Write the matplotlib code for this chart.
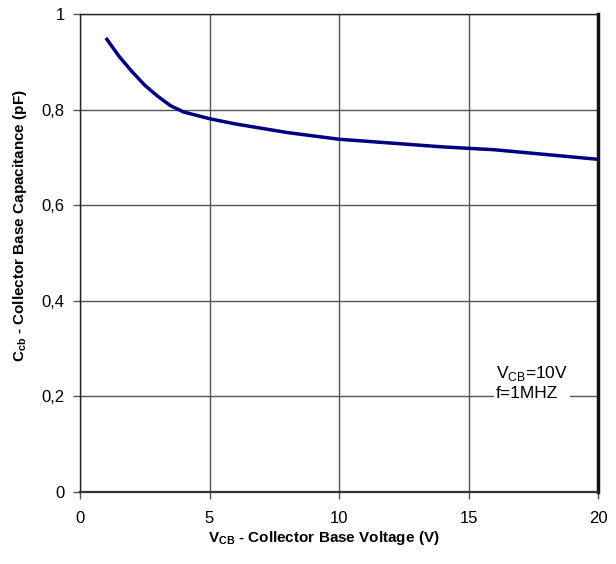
import numpy as np
import matplotlib
matplotlib.use('Agg')
import matplotlib.pyplot as plt

plt.rcParams['font.family'] = ['Liberation Sans', 'DejaVu Sans']
plt.rcParams['mathtext.fontset'] = 'custom'
plt.rcParams['mathtext.rm'] = 'Liberation Sans'
plt.rcParams['mathtext.bf'] = 'Liberation Sans:bold'

# Collector base voltage (V) vs. capacitance (pF)
vcb = [1, 1.5, 2, 2.5, 3, 3.5, 4, 5, 6, 8, 10, 12, 14, 16, 18, 20]
ccb = [0.950, 0.912, 0.880, 0.851, 0.828, 0.808, 0.795, 0.781, 0.770, 0.752,
       0.738, 0.730, 0.722, 0.716, 0.706, 0.696]

x_ticks = [0, 5, 10, 15, 20]
y_ticks = [0, 0.2, 0.4, 0.6, 0.8, 1]
y_tick_labels = ['0', '0,2', '0,4', '0,6', '0,8', '1']

fig = plt.figure(figsize=(6.16, 5.64), dpi=100)
ax = fig.add_axes([80 / 616, 1 - 492 / 564, 518 / 616, 478 / 564])

ax.plot(vcb, ccb, color='#000080', lw=2.5, solid_capstyle='butt', zorder=3)

ax.set_xlim(0, 20)
ax.set_ylim(0, 1)
ax.set_xticks(x_ticks)
ax.set_yticks(y_ticks)
ax.set_yticklabels(y_tick_labels)
ax.grid(True, color='#555555', lw=1.0)
ax.tick_params(direction='out', length=5, width=1, color='#555555',
               labelsize=12, pad=6)
ax.tick_params(axis='x', pad=9)

for side in ['left', 'top']:
    ax.spines[side].set_linewidth(1.0)
    ax.spines[side].set_color('#222222')
ax.spines['bottom'].set_linewidth(1.6)
ax.spines['bottom'].set_color('#333333')
ax.spines['right'].set_linewidth(2.5)
ax.spines['right'].set_color('#111111')

ax.text(16.05, 0.19, 'V$_{\\mathrm{CB}}$=10V\nf=1MHZ', fontsize=12.5, ha='left', va='bottom',
        linespacing=1.25, zorder=4,
        bbox=dict(facecolor='white', edgecolor='none', pad=1.5))

fig.text(324 / 616, 1 - 538 / 564, r'$\mathbf{V_{CB}}$ - Collector Base Voltage (V)',
         ha='center', va='center', fontsize=11, fontweight='bold')
fig.text(20 / 616, 1 - 226 / 564, r'$\mathbf{C_{cb}}$ - Collector Base Capacitance (pF)',
         ha='center', va='center', rotation=90, fontsize=11, fontweight='bold')

fig.savefig('out.png', dpi=100)
